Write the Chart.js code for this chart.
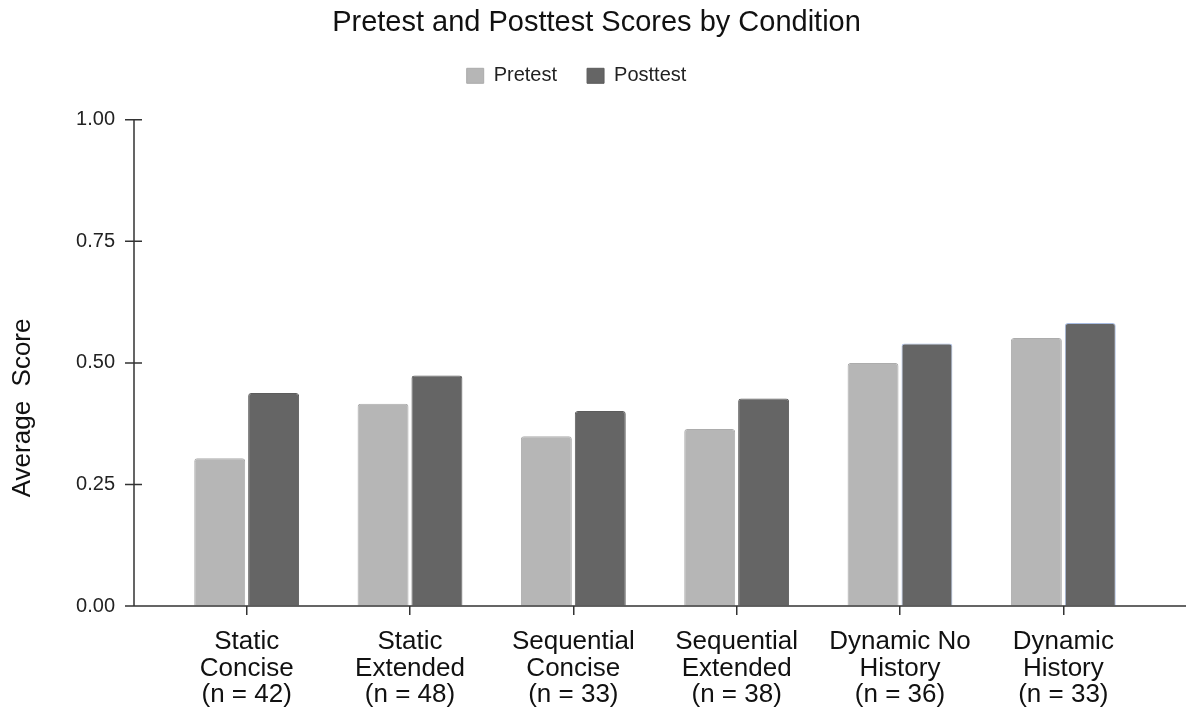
<!DOCTYPE html>
<html>
<head>
<meta charset="utf-8">
<script src="https://cdn.jsdelivr.net/npm/chart.js@4"></script>
<style>
  html, body { margin: 0; padding: 0; background: #fff; }
  #wrap { width: 1186px; height: 709px; }
</style>
</head>
<body>
<div id="wrap"><canvas id="myChart"></canvas></div>
<script>
var categories = [
    ["Static", "Concise", "(n = 42)"],
    ["Static", "Extended", "(n = 48)"],
    ["Sequential", "Concise", "(n = 33)"],
    ["Sequential", "Extended", "(n = 38)"],
    ["Dynamic No", "History", "(n = 36)"],
    ["Dynamic", "History", "(n = 33)"]
];
var pretest = [0.304, 0.416, 0.349, 0.364, 0.500, 0.551];
var posttest = [0.438, 0.474, 0.401, 0.427, 0.540, 0.582];
var yTicks = [0, 0.25, 0.5, 0.75, 1];

var FONT = "'Liberation Sans', Arial, Helvetica, sans-serif";

// axis lines sit left of the first bar group, and the x line runs to the edge
var axisLines = {
    id: 'axisLines',
    beforeInit: function(chart) {
        var lg = chart.legend;
        if (lg) {
            // leave a gap between the legend and the plot
            var fit = lg.fit;
            lg.fit = function() { fit.call(this); this.height += 24; };
            // legend sits a little left of the title
            var draw = lg.draw;
            lg.draw = function() {
                var c = this.ctx;
                c.save();
                c.translate(-20, 0);
                draw.apply(this, arguments);
                c.restore();
            };
        }
    },
    afterDraw: function(chart) {
        var ctx = chart.ctx, area = chart.chartArea, y = chart.scales.y;
        var ax = area.left - 31;
        ctx.save();
        ctx.strokeStyle = '#333';
        ctx.lineWidth = 1.5;
        ctx.beginPath();
        ctx.moveTo(ax, y.getPixelForValue(1));
        ctx.lineTo(ax, area.bottom);
        ctx.moveTo(ax - 9, area.bottom);
        ctx.lineTo(chart.width, area.bottom);
        yTicks.forEach(function(v) {
            var py = y.getPixelForValue(v);
            ctx.moveTo(ax - 9, py);
            ctx.lineTo(ax + 8, py);
        });
        ctx.stroke();

        // y axis title
        ctx.translate(ax - 111, (area.top + area.bottom) / 2 + 45);
        ctx.rotate(-Math.PI / 2);
        ctx.fillStyle = '#111';
        ctx.font = '26px ' + FONT;
        ctx.textAlign = 'center';
        ctx.textBaseline = 'middle';
        ctx.fillText('Average  Score', 0, 0);
        ctx.restore();
    }
};

var ctx = document.getElementById("myChart");

var myChart = new Chart(ctx, {
    type: 'bar',
    data: {
        labels: categories,
        datasets: [{
            label: 'Pretest',
            data: pretest,
            backgroundColor: '#b6b6b6',
            borderColor: '#acacac',
            borderWidth: 1,
            borderRadius: 3,
            borderSkipped: 'bottom',
            categoryPercentage: 0.66,
            barPercentage: 0.945
        }, {
            label: 'Posttest',
            data: posttest,
            backgroundColor: '#656565',
            borderColor: function(c) { return c.dataIndex >= 4 ? '#a8bce2' : '#5c5c5c'; },
            borderWidth: 1,
            borderRadius: 3,
            borderSkipped: 'bottom',
            categoryPercentage: 0.66,
            barPercentage: 0.945
        }]
    },
    plugins: [axisLines],
    options: {
        responsive: true,
        maintainAspectRatio: false,
        animation: false,
        layout: { padding: { left: 48, right: 41, top: 0, bottom: 0 } },
        plugins: {
            title: {
                display: true,
                text: 'Pretest and Posttest Scores by Condition',
                color: '#111',
                font: { family: FONT, size: 29, weight: 'normal' },
                padding: { top: 6, bottom: -5 }
            },
            legend: {
                labels: {
                    color: '#222',
                    font: { family: FONT, size: 20 },
                    boxWidth: 17,
                    boxHeight: 15,
                    padding: 30
                }
            },
            tooltip: { enabled: false }
        },
        scales: {
            x: {
                afterFit: function(s) { s.height = 103; },
                grid: { drawOnChartArea: false, offset: false, tickLength: 9, color: '#333', lineWidth: 1.5 },
                border: { display: false },
                ticks: {
                    color: '#111',
                    font: { family: FONT, size: 26, lineHeight: 1.02 },
                    maxRotation: 0,
                    autoSkip: false,
                    padding: 14
                }
            },
            y: {
                min: 0,
                max: 1,
                afterFit: function(s) { s.width = 117; },
                grid: { drawOnChartArea: false, drawTicks: false },
                border: { display: false },
                ticks: {
                    stepSize: 0.25,
                    color: '#222',
                    font: { family: FONT, size: 20 },
                    padding: 50,
                    callback: function(v) { return v.toFixed(2); }
                }
            }
        }
    }
});
</script>
</body>
</html>
